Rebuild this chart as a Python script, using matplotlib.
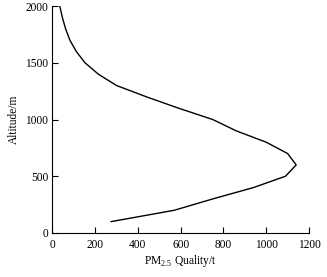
import matplotlib
matplotlib.use("Agg")
import matplotlib.pyplot as plt

plt.rcParams["font.family"] = ["Liberation Serif", "DejaVu Serif"]
plt.rcParams["mathtext.fontset"] = "custom"
plt.rcParams["mathtext.rm"] = "Liberation Serif"

# altitude profile of PM2.5 quality
altitude = [100, 200, 300, 400, 500, 600, 700, 800, 900, 1000,
            1100, 1200, 1300, 1400, 1500, 1600, 1700, 1800, 1900, 2000]
pm25 = [275, 570, 750, 940, 1090, 1140, 1100, 1000, 860, 750,
        590, 440, 300, 215, 153, 112, 82, 62, 47, 35]

fig = plt.figure(figsize=(3.27, 2.77), dpi=100)
ax = fig.add_axes([0.160, 0.159, 0.785, 0.819])

ax.plot(pm25, altitude, color="black", linewidth=1.0)

ax.set_xlim(0, 1200)
ax.set_ylim(0, 2000)
ax.set_xticks([0, 200, 400, 600, 800, 1000, 1200])
ax.set_yticks([0, 500, 1000, 1500, 2000])
ax.tick_params(direction="in", length=4, width=0.8, labelsize=8.3)
ax.tick_params(axis="x", pad=4)
ax.tick_params(axis="y", pad=3)

ax.spines["top"].set_visible(False)
ax.spines["right"].set_visible(False)

ax.set_xlabel(r"PM$_{2.5}$ Quality/t", fontsize=8.3, labelpad=2)
ax.set_ylabel("Altitude/m", fontsize=8.3, labelpad=4)

fig.savefig("out.png", dpi=100)
